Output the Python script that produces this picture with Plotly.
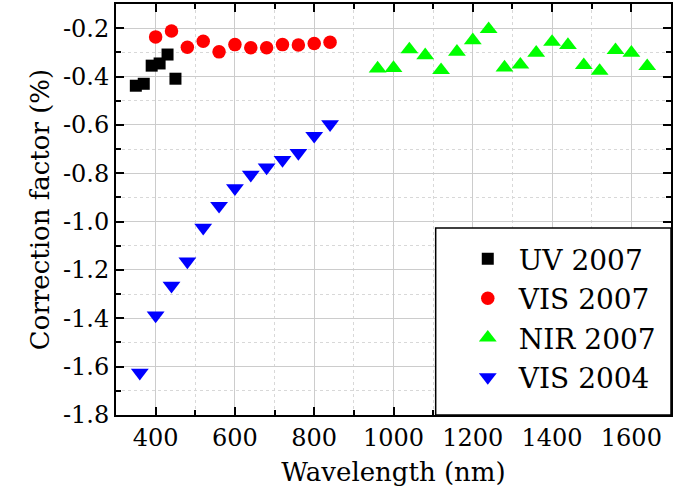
import plotly.graph_objects as go

# ---- data ----
uv2007_x = [350, 370, 390, 410, 430, 450]
uv2007_y = [-0.438, -0.430, -0.355, -0.346, -0.309, -0.409]

vis2007_x = [400, 440, 480, 520, 560, 600, 640, 680, 720, 760, 800, 840]
vis2007_y = [-0.236, -0.212, -0.279, -0.254, -0.298, -0.268, -0.281, -0.281, -0.268, -0.270, -0.263, -0.258]

nir2007_x = [960, 1000, 1040, 1080, 1120, 1160, 1200, 1240, 1280, 1320,
             1360, 1400, 1440, 1480, 1520, 1560, 1600, 1640]
nir2007_y = [-0.367, -0.365, -0.288, -0.312, -0.374, -0.298, -0.250, -0.204, -0.363, -0.351,
             -0.302, -0.257, -0.270, -0.353, -0.377, -0.291, -0.302, -0.357]

vis2004_x = [360, 400, 440, 480, 520, 560, 600, 640, 680, 720, 760, 800, 840]
vis2004_y = [-1.625, -1.388, -1.265, -1.165, -1.025, -0.935, -0.862, -0.806, -0.776, -0.745, -0.716, -0.645, -0.597]

x_ticks = [400, 600, 800, 1000, 1200, 1400, 1600]
x_tick_labels = ["400", "600", "800", "1000", "1200", "1400", "1600"]
y_ticks = [-1.8, -1.6, -1.4, -1.2, -1.0, -0.8, -0.6, -0.4, -0.2]
y_tick_labels = ["-1.8", "-1.6", "-1.4", "-1.2", "-1.0", "-0.8", "-0.6", "-0.4", "-0.2"]

FONT = "DejaVu Serif"

fig = go.Figure()
fig.add_trace(go.Scatter(x=uv2007_x, y=uv2007_y, mode="markers", name="UV 2007",
                         marker=dict(symbol="square", size=12, color="black")))
fig.add_trace(go.Scatter(x=vis2007_x, y=vis2007_y, mode="markers", name="VIS 2007",
                         marker=dict(symbol="circle", size=13.5, color="#ff0000")))
fig.add_trace(go.Scatter(x=nir2007_x, y=nir2007_y, mode="markers", name="NIR 2007",
                         marker=dict(symbol="triangle-up", size=15.5, color="#00ff00")))
fig.add_trace(go.Scatter(x=vis2004_x, y=vis2004_y, mode="markers", name="VIS 2004",
                         marker=dict(symbol="triangle-down", size=15.5, color="#0000ff")))

fig.update_xaxes(
    range=[300, 1700], tickvals=x_ticks, ticktext=x_tick_labels,
    showline=True, linecolor="black", linewidth=2, mirror="allticks",
    ticks="inside", ticklen=8, tickwidth=2, tickcolor="black",
    showgrid=True, gridcolor="#cccccc", gridwidth=1, zeroline=False,
    tickfont=dict(family=FONT, size=24, color="black"),
    title=dict(text="Wavelength (nm)", font=dict(family=FONT, size=26, color="black"), standoff=12),
    minor=dict(dtick=100, tick0=300, ticks="inside", ticklen=5, tickwidth=1.5, tickcolor="black",
               showgrid=True, gridcolor="#d8d8d8", griddash="dot", gridwidth=1),
)
fig.update_yaxes(
    range=[-1.8, -0.1], tickvals=y_ticks, ticktext=y_tick_labels,
    showline=True, linecolor="black", linewidth=2, mirror="allticks",
    ticks="inside", ticklen=8, tickwidth=2, tickcolor="black",
    showgrid=True, gridcolor="#cccccc", gridwidth=1, zeroline=False,
    tickfont=dict(family=FONT, size=24, color="black"),
    title=dict(text="Correction factor (%)", font=dict(family=FONT, size=26, color="black"), standoff=6),
    minor=dict(dtick=0.1, tick0=-1.8, ticks="inside", ticklen=5, tickwidth=1.5, tickcolor="black",
               showgrid=True, gridcolor="#d8d8d8", griddash="dot", gridwidth=1),
)

# legend frame
fig.add_shape(type="rect", xref="paper", yref="paper",
              x0=0.576, x1=1.0, y0=0.0, y1=0.455,
              fillcolor="white", line=dict(color="black", width=1.5), layer="above")

fig.update_layout(
    width=674, height=502,
    margin=dict(l=116, r=1, t=4, b=87),
    plot_bgcolor="white", paper_bgcolor="white",
    showlegend=True,
    legend=dict(
        x=0.614, y=0.44, xanchor="left", yanchor="top",
        bgcolor="rgba(0,0,0,0)", borderwidth=0,
        font=dict(family=FONT, size=28, color="black"),
        itemwidth=52, tracegroupgap=0,
    ),
)

fig.write_html("out.html")
